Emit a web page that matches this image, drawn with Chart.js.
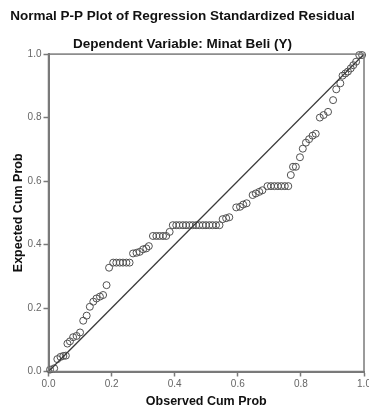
<!DOCTYPE html>
<html>
<head>
<meta charset="utf-8">
<script src="https://cdn.jsdelivr.net/npm/chart.js@4.4.1/dist/chart.umd.min.js"></script>
<style>
    html, body { margin: 0; padding: 0; background: #fff; }
    #wrap { width: 369px; height: 410px; position: relative; }
</style>
</head>
<body>
<div id="wrap"><canvas id="ppChart"></canvas></div>
<script>
// observed vs expected cumulative probability
var obsCumProb = [
    0.005, 0.018, 0.028, 0.038, 0.047, 0.055, 0.060, 0.068, 0.078, 0.089,
    0.100, 0.110, 0.121, 0.131, 0.142, 0.152, 0.163, 0.173, 0.184, 0.192,
    0.205, 0.215, 0.226, 0.236, 0.247, 0.257,
    0.268, 0.279, 0.289, 0.300, 0.310, 0.318,
    0.331, 0.342, 0.352, 0.363, 0.373, 0.384,
    0.394, 0.405, 0.415, 0.426, 0.436, 0.447, 0.457, 0.468, 0.478, 0.489,
    0.499, 0.510, 0.520, 0.531, 0.542,
    0.552, 0.563, 0.573, 0.595, 0.607, 0.617, 0.628,
    0.647, 0.657, 0.668, 0.678,
    0.694, 0.705, 0.716, 0.727, 0.738, 0.749, 0.760,
    0.768, 0.775, 0.784, 0.797, 0.806, 0.816, 0.826, 0.837, 0.847,
    0.860, 0.872, 0.886, 0.902, 0.912, 0.925,
    0.932, 0.941, 0.949, 0.958, 0.966, 0.975, 0.985, 0.994
];
var expCumProb = [
    0.006, 0.010, 0.039, 0.046, 0.049, 0.050, 0.088, 0.095, 0.108, 0.112,
    0.123, 0.160, 0.176, 0.204, 0.220, 0.230, 0.236, 0.241, 0.272, 0.327,
    0.343, 0.343, 0.343, 0.343, 0.343, 0.343,
    0.372, 0.374, 0.377, 0.385, 0.388, 0.395,
    0.427, 0.427, 0.427, 0.427, 0.427, 0.440,
    0.461, 0.461, 0.461, 0.461, 0.461, 0.461, 0.461, 0.461, 0.461, 0.461,
    0.461, 0.461, 0.461, 0.461, 0.461,
    0.480, 0.483, 0.486, 0.517, 0.519, 0.526, 0.530,
    0.556, 0.561, 0.566, 0.571,
    0.584, 0.584, 0.584, 0.584, 0.584, 0.584, 0.584,
    0.619, 0.645, 0.645, 0.675, 0.702, 0.721, 0.732, 0.743, 0.749,
    0.800, 0.808, 0.818, 0.855, 0.889, 0.908,
    0.932, 0.939, 0.945, 0.955, 0.965, 0.976, 0.997, 0.997
];
var refLineX = [0, 1];
var refLineY = [0, 1];
var axisMin = 0, axisMax = 1, tickStep = 0.2;

var titleText = "Normal P-P Plot of Regression Standardized Residual";
var subtitleText = "Dependent Variable: Minat Beli (Y)";
var xTitle = "Observed Cum Prob";
var yTitle = "Expected Cum Prob";

var points = obsCumProb.map((x, i) => ({ x: x, y: expCumProb[i] }));
var diag = refLineX.map((x, i) => ({ x: x, y: refLineY[i] }));

// gray box round the plot area
var frame = {
    id: 'frame',
    afterDraw(chart) {
        let a = chart.chartArea;
        let ctx = chart.ctx;
        ctx.save();
        ctx.strokeStyle = '#7a7a7a';
        ctx.lineWidth = 1.5;
        ctx.strokeRect(a.left, a.top, a.right - a.left, a.bottom - a.top);
        ctx.restore();
    }
};

Chart.defaults.font.family = "'Liberation Sans', Arial, sans-serif";
Chart.defaults.color = '#555';

var ctx = document.getElementById("ppChart");
var chart = new Chart(ctx, {
    type: 'scatter',
    data: {
        datasets: [{
            type: 'line',
            data: diag,
            borderColor: '#3a3a3a',
            borderWidth: 1.3,
            pointRadius: 0,
            fill: false
        }, {
            data: points,
            pointStyle: 'circle',
            pointRadius: 3.5,
            pointBorderWidth: 1,
            borderColor: '#505050',
            backgroundColor: 'rgba(0,0,0,0)',
            clip: 5
        }]
    },
    plugins: [frame],
    options: {
        responsive: true,
        maintainAspectRatio: false,
        animation: false,
        layout: { padding: { top: 0, right: 4, bottom: 0, left: 0 } },
        plugins: {
            legend: { display: false },
            tooltip: { enabled: false },
            title: {
                display: true,
                text: titleText,
                color: '#111',
                font: { size: 13.5, weight: 'bold' },
                padding: { top: 8, bottom: 5 }
            },
            subtitle: {
                display: true,
                text: subtitleText,
                color: '#111',
                font: { size: 13.5, weight: 'bold' },
                padding: { top: 6.7, bottom: 2 }
            }
        },
        scales: {
            x: {
                type: 'linear',
                min: axisMin,
                max: axisMax,
                ticks: {
                    stepSize: tickStep,
                    padding: 2,
                    color: '#666',
                    font: { size: 10 },
                    callback: v => v.toFixed(1)
                },
                grid: { drawOnChartArea: false, tickLength: 5, color: '#7a7a7a', tickWidth: 1.5 },
                border: { color: '#7a7a7a', width: 2 },
                title: {
                    display: true,
                    text: xTitle,
                    color: '#111',
                    font: { size: 12.5, weight: 'bold' },
                    padding: { top: 0, bottom: 1 }
                },
                afterFit(scale) {
                    scale.height = 38.5;
                    scale.paddingLeft = 0;
                    scale.paddingRight = 0;
                }
            },
            y: {
                type: 'linear',
                min: axisMin,
                max: axisMax,
                ticks: {
                    stepSize: tickStep,
                    padding: 2,
                    color: '#666',
                    font: { size: 10 },
                    callback: v => v.toFixed(1)
                },
                grid: { drawOnChartArea: false, tickLength: 5, color: '#7a7a7a', tickWidth: 1.5 },
                border: { color: '#7a7a7a', width: 2 },
                title: {
                    display: true,
                    text: yTitle,
                    color: '#111',
                    font: { size: 12.5, weight: 'bold' },
                    padding: { top: 11, bottom: 0 }
                },
                afterFit(scale) {
                    scale.width = 48.5;
                    scale.paddingTop = 0;
                    scale.paddingBottom = 0;
                }
            }
        }
    }
});
</script>
</body>
</html>
